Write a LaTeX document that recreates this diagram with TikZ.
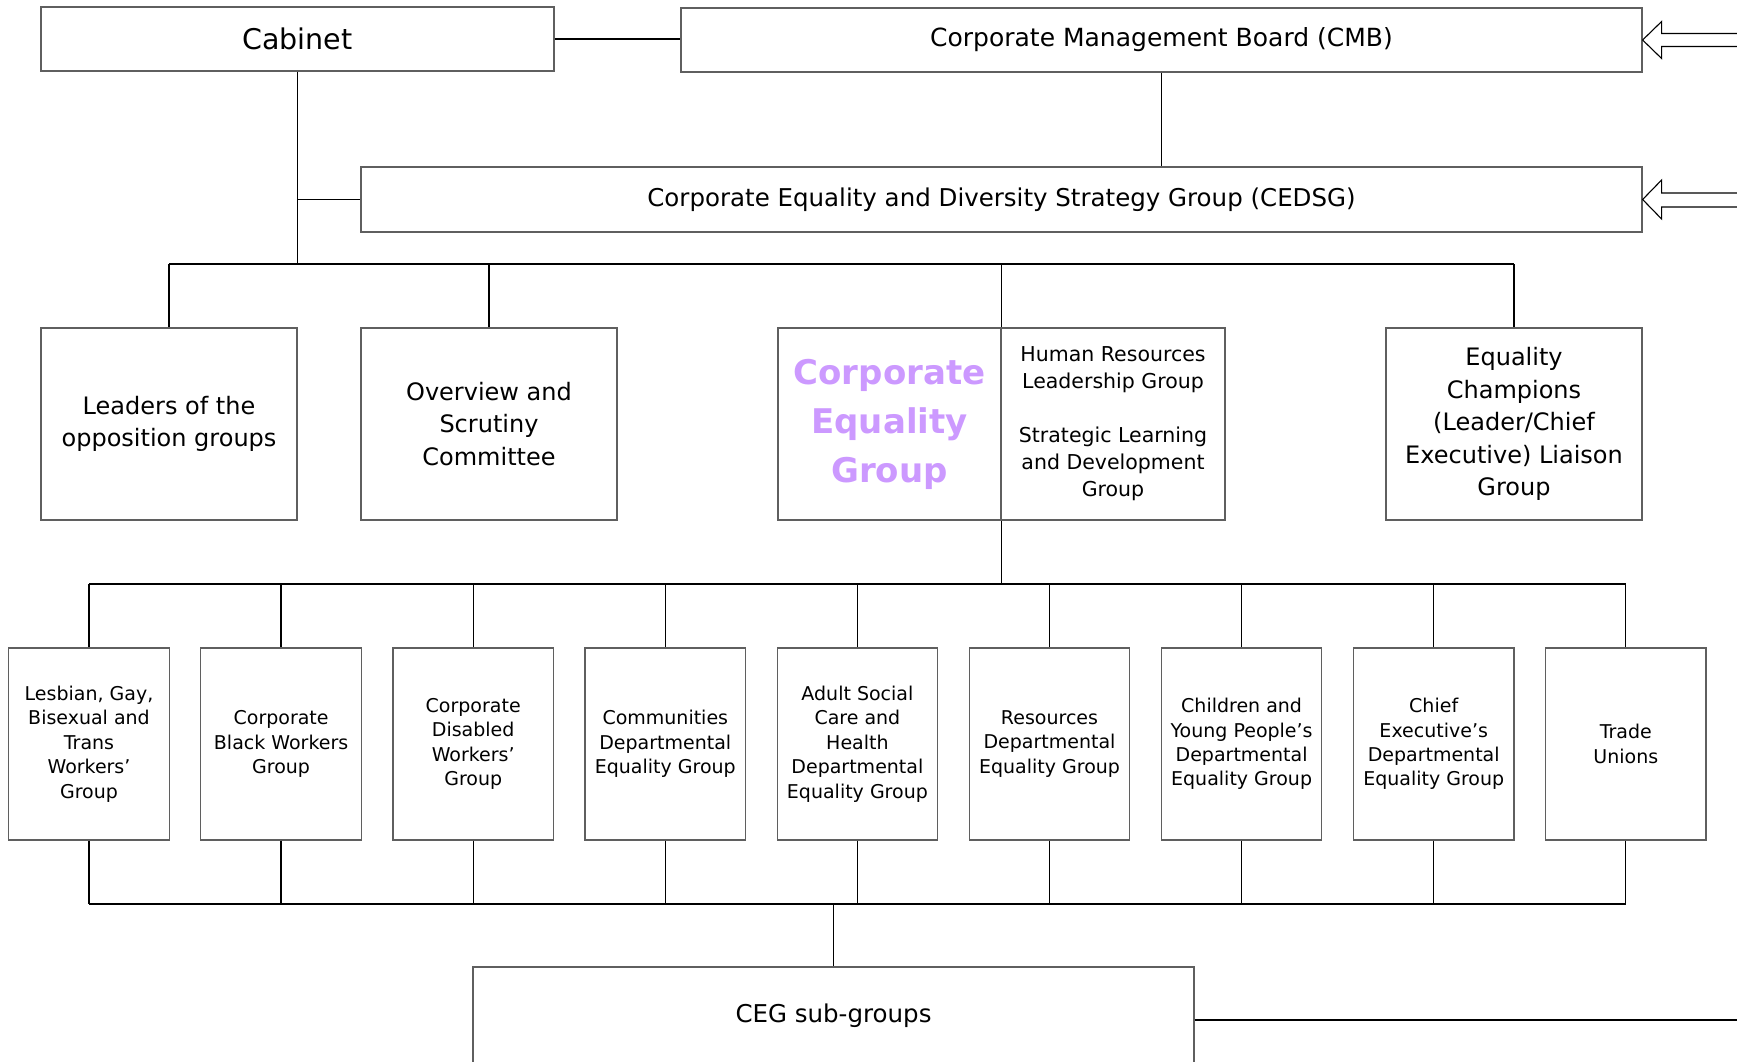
\documentclass[tikz,border=0pt]{standalone}
\usepackage{fontspec}
\setmainfont{DejaVu Sans}
\usetikzlibrary{calc}
\definecolor{boxline}{RGB}{95,95,95}
\definecolor{cegpurple}{RGB}{204,153,255}

\begin{document}
\begin{tikzpicture}[x=1pt,y=-1pt,
  box/.style={draw=boxline, line width=1.2pt, fill=white, inner sep=0pt, align=center},
  toprow/.style={box, minimum height=64pt, font=\fontsize{25}{30}\selectfont},
  midrow/.style={box, minimum width=256pt, minimum height=192pt, font=\fontsize{24}{32.5}\selectfont},
  lowrow/.style={box, minimum width=160.5pt, minimum height=192pt, font=\fontsize{19}{24.4}\selectfont},
  conn/.style={line width=1.3pt, black},
  hollowarrow/.style={draw=black, line width=1.1pt, fill=white, line join=miter}
]
\useasboundingbox (0,0) rectangle (1737,1062);

% bus levels
\coordinate (topbus) at (0,264);
\coordinate (midbus) at (0,584);
\coordinate (lowbus) at (0,904);
\coordinate (rightexit) at (1745,1020);

% top level
\node[toprow, minimum width=513pt, font=\fontsize{28.5}{34}\selectfont] (cabinet) at (297.5,39) {Cabinet};
\node[toprow, minimum width=961pt] (cmb) at (1161.5,40) {Corporate Management Board (CMB)};
\node[toprow, minimum width=1281pt, minimum height=65pt, font=\fontsize{24.5}{30}\selectfont] (cedsg) at (1001.5,199.5)
  {Corporate Equality and Diversity Strategy Group (CEDSG)};

% second level
\node[midrow] (leaders) at (169,424) {Leaders of the\\opposition groups};
\node[midrow] (overview) at (489,424) {Overview and\\Scrutiny\\Committee};
\node[midrow, minimum width=223pt, text=cegpurple, font=\fontsize{34}{49}\selectfont\bfseries] (ceg) at (889.5,424)
  {Corporate\\Equality\\Group};
\node[midrow, minimum width=224pt, font=\fontsize{20.5}{27}\selectfont] (hr) at (1113,424)
  {Human Resources\\Leadership Group\\[27pt]Strategic Learning\\and Development\\Group};
\node[midrow] (champ) at (1514,424) {Equality\\Champions\\(Leader/Chief\\Executive) Liaison\\Group};

% third level
\foreach \i/\txt in {
  1/{Lesbian, Gay,\\Bisexual and\\Trans\\Workers’\\Group},
  2/{Corporate\\Black Workers\\Group},
  3/{Corporate\\Disabled\\Workers’\\Group},
  4/{Communities\\Departmental\\Equality Group},
  5/{Adult Social\\Care and\\Health\\Departmental\\Equality Group},
  6/{Resources\\Departmental\\Equality Group},
  7/{Children and\\Young People’s\\Departmental\\Equality Group},
  8/{Chief\\Executive’s\\Departmental\\Equality Group},
  9/{Trade\\Unions}}
{
  \node[lowrow] (n\i) at ({89+192.1*(\i-1)},744) {\txt};
}

% bottom level
\node[box, minimum width=721pt, minimum height=97pt, font=\fontsize{24.5}{30}\selectfont] (sub) at (833.5,1015.5) {CEG sub-groups};

% top connectors
\draw[conn] (cabinet.east) -- (cabinet.east -| cmb.west);
\draw[conn] (cmb.south) -- (cmb.south |- cedsg.north);
\draw[conn] (cabinet.south) -- (cabinet.south |- topbus);
\draw[conn] (cabinet.south |- cedsg.west) -- (cedsg.west);
\draw[conn] (leaders.north |- topbus) -- (champ.north |- topbus);
\draw[conn] (leaders.north |- topbus) -- (leaders.north);
\draw[conn] (overview.north |- topbus) -- (overview.north);
\draw[conn] (ceg.north east |- topbus) -- (ceg.north east);
\draw[conn] (champ.north |- topbus) -- (champ.north);

% middle connectors
\draw[conn] (ceg.south east) -- (ceg.south east |- midbus);
\draw[conn] (n1.north |- midbus) -- (n9.north |- midbus);
\draw[conn] (n1.south |- lowbus) -- (n9.south |- lowbus);
\foreach \i in {1,...,9} {
  \draw[conn] (n\i.north |- midbus) -- (n\i.north);
  \draw[conn] (n\i.south) -- (n\i.south |- lowbus);
}
\draw[conn] (sub.north |- lowbus) -- (sub.north);
\draw[conn, line width=1.8pt] (sub.east |- rightexit) -- (rightexit);

% incoming hollow arrows on the right
\draw[hollowarrow] (cmb.east) -- ++(19,-18.5) -- ++(0,12) -- ++(90,0) -- ++(0,13) -- ++(-90,0) -- ++(0,12) -- cycle;
\draw[hollowarrow] (cedsg.east) -- ++(19,-19.5) -- ++(0,13) -- ++(90,0) -- ++(0,14) -- ++(-90,0) -- ++(0,12) -- cycle;
\end{tikzpicture}
\end{document}
